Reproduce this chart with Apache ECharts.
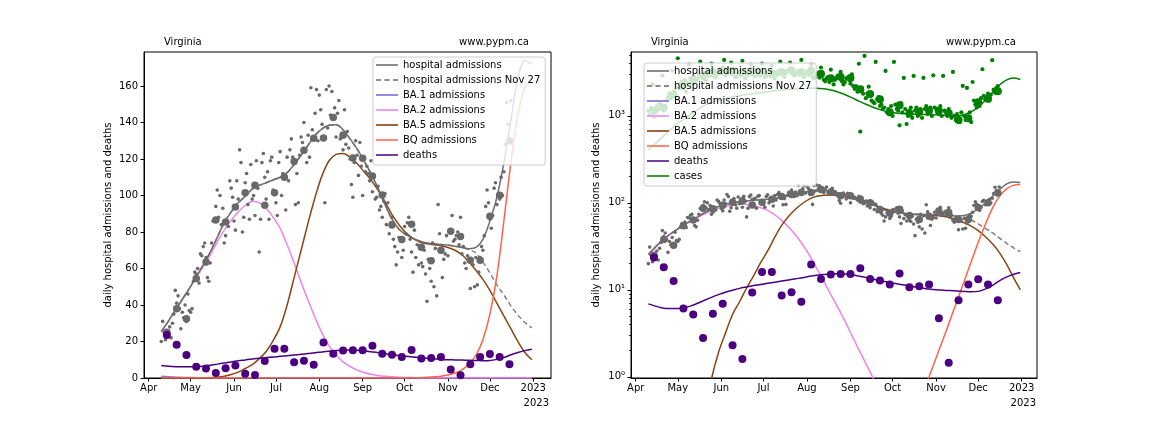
<!DOCTYPE html>
<html><head><meta charset="utf-8">
<script src="https://cdn.jsdelivr.net/npm/echarts@6/dist/echarts.min.js"></script>
<style>html,body{margin:0;padding:0;background:#fff}#c{width:1152px;height:432px}</style>
</head><body><div id="c"></div>
<script>
// ---- days are counted from 2022-04-01 ----
const modelDays = [9,14,19,24,29,34,39,44,49,54,59,64,69,74,79,84,89,94,99,104,109,114,119,124,129,134,139,144,149,154,159,164,169,174,179,184,189,194,199,204,209,214,219,224,229,234,239,244,249,254,259,264,269,274];
const hospModel = [25.5,31,37,43,49,55.5,62,69,77,85, 91,96,99.5,103.5,105.5,107,108.5,110,112.5,117, 122,127.5,133,136.5,138.5,138.7,136,131,125.5,119, 112,104,95,87,81.5,78.5,76.5,75,74,73.5, 73.2,72.8,72.2,71.5,70.8,71.5,76,86,99,118, 141,164,174,172];
const hospNov27 = [25.5,31,37,43,49,55.5,62,69,77,85, 91,96,99.5,103.5,105.5,107,108.5,110,112.5,117, 122,127.5,133,136.5,138.5,138.7,136,131,125.5,119, 112,104,95,87,81.5,78.5,76.5,75,74,73.5, 73.2,72.8,72.2,71.5,70.3,68.5,63.5,57.5,51,45.5, 39.5,34.5,30.5,27.5];
const ba1Model = [0.9,0.7,0.5,0.35,0.25,0.17,0.12,0.08,0.05,0.03, 0.02,0.015,0.012,0.01,0.01,0.01,0.01,0.01,0.01,0.01, 0.01,0.01,0.01,0.01,0.01,0.01,0.01,0.01,0.01,0.01, 0.01,0.01,0.01,0.01,0.01,0.01,0.01,0.01,0.01,0.01, 0.01,0.01,0.01,0.01,0.01,0.01,0.01,0.01,0.01,0.01, 0.01,0.01,0.01,0.01];
const ba2Model = [25.5,31,37,43,49,55,61,67.5,74.5,81, 86.5,91,94.5,96.8,96,93,88,82,73,63, 52.5,42.5,33,24.6,17.6,12.6,8.8,6.3,4.4,3.0, 2.05,1.42,0.98,0.66,0.43,0.27,0.16,0.09,0.05,0.027, 0.014,0.007,0.0035,0.0017,0.0008,0.0004,0.0002,0.0001,0.0001,0.0001, 0.0001,0.0001,0.0001,0.0001];
const ba5Model = [0.0001,0.0003,0.0008,0.002,0.006,0.015,0.04,0.11,0.38,0.95, 1.9,3.2,5.2,7.3,10.5,14.5,20.5,28,40,55, 70,85,99,111,119,122.5,123,121,117.5,113, 108.5,103,96.5,89.5,84,79.5,76.5,74.5,73.5,73, 72.5,71.5,70,67.5,63.5,59,54,48,41,34, 27,20,14,10];
const bqModel = [0.001,0.001,0.001,0.001,0.001,0.001,0.001,0.001,0.001,0.001, 0.001,0.001,0.001,0.001,0.001,0.001,0.001,0.001,0.001,0.001, 0.001,0.001,0.001,0.001,0.001,0.001,0.001,0.001,0.001,0.001, 0.001,0.001,0.001,0.012,0.025,0.05,0.1,0.19,0.36,0.62, 1.0,1.65,2.7,4.5,7.5,12.5,21,35,56,86, 118,144,159,163];
const deathsModel = [6.9,6.5,6.2,6.1,6.1,6.2,6.5,7.0,7.6,8.2, 8.8,9.4,9.9,10.4,10.8,11.2,11.5,11.9,12.2,12.6, 13.0,13.4,13.8,14.3,14.7,15.0,15.2,15.3,15.2,14.9, 14.4,13.9,13.3,12.7,12.3,11.9,11.5,11.2,10.8,10.5, 10.2,10.0,9.9,9.8,9.7,9.6,9.5,9.6,10.2,11.2, 12.7,14.0,15.0,15.8];
const casesModel = [405,480,570,680,800,910,1040,1175,1320,1430, 1510,1580,1650,1710,1760,1805,1850,1900,1945,1980, 2010,2040,2065,2080,2080,2050,1980,1880,1760,1620, 1480,1360,1260,1180,1120,1085,1065,1050,1045,1040, 1035,1030,1020,1010,1005,1030,1110,1260,1500,1850, 2250,2580,2720,2620];

// weekly data points
const weeklyDays = [13,20,27,34,41,48,55,62,69,76,83,90,97,104,111,118,125,132,139,146,153,160,167,174,181,188,195,202,209,216,223,230,237,244,251,258];
const hospWeekly = [25,38,32.5,54.5,63.5,86.5,85.5,93.7,101.5,105.6,94.6,101.5,110,118.6,124.8,131.4,131.5,142.7,133,120.5,120.4,110.6,100.2,83.8,75.9,84.3,71.6,64.3,70,80.4,77.5,64.5,64.5,88.6,100.1,129.8];
const deathsWeekly = [23.6,18.2,12.6,6.1,5.2,2.8,5.3,6.9,2.3,1.6,9.3,16,16,8.6,9.4,7.3,19.5,13.3,15,15.2,15.2,17.7,13.3,12.8,11.5,15.4,10.7,11,11.5,4.7,1.45,7.6,11.5,13.2,11.5,7.6];
const casesWeekly = [1150,1250,1750,2300,2600,2900,3200,3350,3300,3200,3300,3200,3100,3200,3350,3200,3300,3050,2710,2800,2730,2025,1790,1550,1100,1325,1072,1109,1148,1148,1072,897,938,1435,1578,1920];

// daily data points, first day = dailyStart
const dailyStart = 9;
const hospDaily = [
 20,31,25,21,24,23,28, 22,30,35,48,41,45,38, 27,36,33,40,31,46,37, 36,38,53,58,57,60,52,
 68,67,72,74,66,55,53, 63,74,86,87,94,103,88, 100,84,93,74,78,85,83, 108,104,99,86,81,108,98,
 125,118,80,88,107,112,95, 87,117,98,100,89,119,104, 69,87,118,123,110,98,113, 87,119,121,103,102,96,89,
 118,124,100,112,110,92,121, 108,125,131,121,119,95,112, 96,122,132,129,140,124,118, 133,121,159,136,131,145,158,
 130,155,147,139,132,96,158, 137,160,144,157,143,148,132, 145,152,131,134,125,147,128, 135,126,120,106,99,118,130,
 122,111,129,116,100,121,113, 116,112,108,119,102,110,98, 99,105,92,94,88,97,101, 84,96,79,85,88,76,72,
 62,69,77,76,66,70,83, 79,85,88,76,69,58,81, 66,73,62,71,63,61,70, 57,42,65,60,53,74,50,
 71,45,95,79,69,55,65, 68,78,67,81,80,89,75, 76,78,80,73,88,68,72, 63,60,67,65,49,64,62,
 50,66,51,58,66,72,70, 78,94,103,96,87,82,89, 104,107,95,101,98,110,100, 113,128,151,139,130,152];
const casesDaily = [
 1150,1020,1240,2300,980,1100,1300, 1180,1400,1320,2900,1150,1260,1500, 1650,1820,1580,3300,1900,1700,2100, 4600,2100,2350,2500,2050,2600,1900,
 2400,3900,2700,2550,2300,2800,2600, 2650,3000,4200,2900,2700,3100,2550, 3100,2850,3300,4000,2900,3200,2750, 3000,3400,3300,3100,3600,4400,2900,
 3300,3100,3500,4100,3000,3200,2800, 2800,3100,3200,2900,4300,3000,2700, 3200,2950,3400,3900,3000,3100,2850, 3000,3300,3250,2900,4000,3100,2800,
 2900,3100,3200,2850,3800,3000,2700, 3200,2950,3300,4200,3000,3100,2800, 3100,3300,3400,4100,3150,3000,2900, 3000,3200,3300,2950,4400,3100,2800,
 3100,3250,2950,3000,3900,2800,2700, 2800,3000,3100,2750,3600,2900,2600, 2500,2700,2800,2450,3400,2600,2300, 2600,2750,2900,2800,3200,2500,2300,
 2450,2700,2750,2600,2350,3000,2200, 2050,2200,1900,3980,660,2100,1800, 4900,1600,1800,2170,1700,1500,1450, 1400,4170,1550,1650,1300,1350,1200,
 1250,3290,1100,1200,1050,1300,1000, 4170,1350,1200,1150,780,1400,1100, 2735,1200,807,1000,1150,1250,950, 2880,1150,1250,1000,1100,1200,950,
 2735,1200,1300,1050,1100,1250,1000, 2930,1250,1200,1100,1050,1300,1000, 2880,1150,1100,1000,1200,1050,950, 3200,1000,900,1050,950,850,1100,
 2210,1000,900,2100,950,1100,850, 2455,1500,1350,1250,1450,1300,1600, 3440,1700,1550,1650,1800,1500,1750, 4370,2000,1850,2100,2200,1900];

const monthTickLabels = ['Apr','May','Jun','Jul','Aug','Sep','Oct','Nov','Dec','2023'];
const linTicks = [0,20,40,60,80,100,120,140,160];
const logTicks = [1,10,100,1000];
const logMinorTicks = [2,3,4,5,6,7,8,9,20,30,40,50,60,70,80,90,200,300,400,500,600,700,800,900,2000,3000,4000,5000];

// ---- build ----
const DAY = 86400000;
const base = new Date(2022, 3, 1).getTime();
const ts = d => base + d * DAY;
const pairs = (days, vals) => days.map((d, i) => [ts(d), vals[i]]);
const dailyPairs = vals => vals.map((v, i) => [ts(dailyStart + i), v]);
const monthTicks = monthTickLabels.map((_, i) => new Date(2022, 3 + i, 1).getTime());
const FONT = 'DejaVu Sans';
const sup = ['\u2070','\u00b9','\u00b2','\u00b3','\u2074'];

const C = {hosp:'#6e6e6e', dots:'#696969', ba1:'#9370DB', ba2:'#EE82EE', ba5:'#8B4513', bq:'#FF6347', deaths:'#4B0082', cases:'#008000'};
const LEG = {hosp:'#8c8c8c', nov:'#8c8c8c', ba1:'#9a86dd', ba2:'#f09cf0', ba5:'#a0653c', bq:'#ff8a72', deaths:'#7040a8', cases:'#3a9a3a'};

function monthLabel(v) {
  let best = 0, bd = Infinity;
  monthTicks.forEach((t, i) => { const dd = Math.abs(t - v); if (dd < bd) { bd = dd; best = i; } });
  return monthTickLabels[best];
}
function xAxis(grid, minD, maxD) {
  return {type:'value', gridIndex:grid, min:ts(minD), max:ts(maxD), scale:true,
    axisLine:{show:true, onZero:false, lineStyle:{color:'#000', width:1}},
    axisTick:{show:true, length:3.5, inside:false, customValues:monthTicks, lineStyle:{color:'#000', width:1}},
    axisLabel:{customValues:monthTicks, margin:5, color:'#000', fontFamily:FONT, fontSize:10, formatter: monthLabel},
    splitLine:{show:false}};
}
function lineS(name, xi, days, vals, color, dashed) {
  return {type:'line', name, xAxisIndex:xi, yAxisIndex:xi, data:pairs(days, vals), symbol:'none', showSymbol:false,
    smooth:0.35, clip:true, lineStyle:{color, width:1.5, type: dashed ? [5,3] : 'solid'}, itemStyle:{color}, z:2};
}
function scatS(name, xi, data, color, size) {
  return {type:'scatter', name, xAxisIndex:xi, yAxisIndex:xi, data, symbol:'circle', symbolSize:size,
    itemStyle:{color, opacity:1}, clip:true, z:3, silent:true};
}
function panelSeries(xi, withCases) {
  const s = [];
  if (withCases) {
    s.push(scatS('cases data', xi, dailyPairs(casesDaily), C.cases, 4.2));
    s.push(scatS('cases weekly', xi, pairs(weeklyDays, casesWeekly), C.cases, 8));
    s.push(lineS('cases', xi, modelDays, casesModel, C.cases));
  }
  s.push(lineS('hospital admissions Nov 27', xi, modelDays, hospNov27, '#808080', true));
  s.push(lineS('BA.1 admissions', xi, modelDays, ba1Model, C.ba1));
  s.push(lineS('BA.2 admissions', xi, modelDays, ba2Model, C.ba2));
  s.push(lineS('BA.5 admissions', xi, modelDays, ba5Model, C.ba5));
  s.push(lineS('BQ admissions', xi, modelDays, bqModel, C.bq));
  s.push(lineS('hospital admissions', xi, modelDays, hospModel, C.hosp));
  s.push(lineS('deaths', xi, modelDays, deathsModel, C.deaths));
  s.push(scatS('hosp data', xi, dailyPairs(hospDaily), C.dots, 3.6));
  s.push(scatS('hosp weekly', xi, pairs(weeklyDays, hospWeekly), C.dots, 7.5));
  s.push(scatS('deaths data', xi, pairs(weeklyDays, deathsWeekly), C.deaths, 8));
  return s;
}
const SOLID = 'path://M0,0h22v2h-22z';
const DASHED = 'path://M0,0h5v2h-5zM8.5,0h5v2h-5zM17,0h5v2h-5z';
const legendItems = [
  {name:'hospital admissions', icon:SOLID, itemStyle:{color:LEG.hosp}},
  {name:'hospital admissions Nov 27', icon:DASHED, itemStyle:{color:LEG.nov}},
  {name:'BA.1 admissions', icon:SOLID, itemStyle:{color:LEG.ba1}},
  {name:'BA.2 admissions', icon:SOLID, itemStyle:{color:LEG.ba2}},
  {name:'BA.5 admissions', icon:SOLID, itemStyle:{color:LEG.ba5}},
  {name:'BQ admissions', icon:SOLID, itemStyle:{color:LEG.bq}},
  {name:'deaths', icon:SOLID, itemStyle:{color:LEG.deaths}}
];
const casesItem = {name:'cases', icon:SOLID, itemStyle:{color:LEG.cases}};
function legend(left, top, items) {
  return {orient:'vertical', left, top, data:items, itemWidth:22, itemHeight:2, itemGap:3,
    padding:[2,5,4,3], backgroundColor:'rgba(255,255,255,0.8)', borderColor:'#cccccc', borderWidth:1, borderRadius:3,
    textStyle:{fontFamily:FONT, fontSize:10, color:'#000', lineHeight:12}, selectedMode:false, z:10};
}
const txt = (x, y, s, align, rot) => ({type:'text', x, y, rotation: rot || 0, z:20,
  style:{text:s, fill:'#000', font:'10px "DejaVu Sans"', textAlign:align, textVerticalAlign:'middle'}});

const chart = echarts.init(document.getElementById('c'), null, {renderer:'canvas'});
chart.setOption({
  animation:false,
  backgroundColor:'#fff',
  grid:[
    {left:144, top:52, width:407, height:326, show:true, borderColor:'#000', borderWidth:1, backgroundColor:'transparent'},
    {left:631, top:52, width:406, height:326, show:true, borderColor:'#000', borderWidth:1, backgroundColor:'transparent'}
  ],
  xAxis:[ xAxis(0, -3.36, 287.7), xAxis(1, -3.35, 285.9) ],
  yAxis:[
    {type:'value', gridIndex:0, min:0, max:178.6, position:'left',
      axisLine:{show:true, lineStyle:{color:'#000'}}, splitLine:{show:false},
      axisTick:{show:true, length:3.5, customValues:linTicks, lineStyle:{color:'#000'}},
      axisLabel:{customValues:linTicks, margin:6, color:'#000', fontFamily:FONT, fontSize:10}},
    {type:'log', logBase:10, gridIndex:1, min:0.969, max:5430, position:'left',
      axisLine:{show:true, lineStyle:{color:'#000'}}, splitLine:{show:false},
      axisTick:{show:true, length:3.5, customValues:logTicks, lineStyle:{color:'#000'}},
      axisLabel:{customValues:logTicks, margin:6, color:'#000', fontFamily:FONT, fontSize:10,
        formatter: v => '10' + sup[Math.round(Math.log10(v))]}},
    {type:'log', logBase:10, gridIndex:1, min:0.969, max:5430, position:'left', offset:0,
      axisLine:{show:false}, splitLine:{show:false},
      axisTick:{show:true, length:2, customValues:logMinorTicks, lineStyle:{color:'#000', width:0.8}},
      axisLabel:{show:false}}
  ],
  legend:[ legend(373, 57, legendItems), legend(644, 63, legendItems.concat([casesItem])) ],
  graphic:[
    txt(164, 42, 'Virginia', 'left'), txt(529, 42, 'www.pypm.ca', 'right'),
    txt(651, 42, 'Virginia', 'left'), txt(1016, 42, 'www.pypm.ca', 'right'),
    txt(108, 215, 'daily hospital admissions and deaths', 'center', Math.PI/2),
    txt(596, 215, 'daily hospital admissions and deaths', 'center', Math.PI/2),
    txt(549, 403, '2023', 'right'), txt(1036, 403, '2023', 'right')
  ],
  series: panelSeries(0, false).concat(panelSeries(1, true))
});
</script></body></html>
